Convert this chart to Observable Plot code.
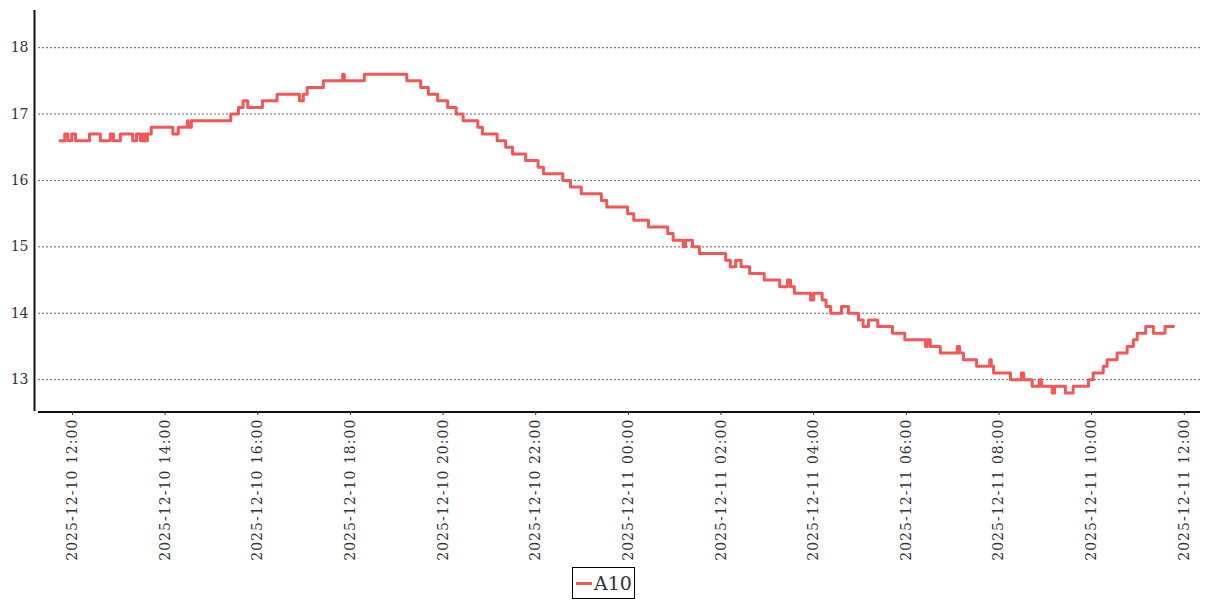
<!DOCTYPE html>
<html>
<head>
<meta charset="utf-8">
<script src="https://cdn.jsdelivr.net/npm/d3@7"></script>
<script src="https://cdn.jsdelivr.net/npm/@observablehq/plot@0.6"></script>
<style>
  html, body { margin: 0; padding: 0; background: #fff; }
  #chart svg { display: block; }
  #chart g[aria-label="x-axis tick label"] text { letter-spacing: 1.05px; }
  .legend { display: flex; justify-content: center; margin-top: 2px; }
  .legend .box { border: 1px solid #000; display: flex; align-items: center; padding: 0 2px 0 3px; height: 30px;
    font-family: "DejaVu Serif", serif; font-size: 19px; color: #333; }
  .legend .sw { width: 16px; height: 3px; background: #f25757; margin-right: 2px; }
</style>
</head>
<body>
<div id="chart"></div>
<div class="legend"><div class="box"><span class="sw"></span><span>A10</span></div></div>
<script>
const seriesName = "A10";
const times = [
  "2025-12-10 11:44","2025-12-10 11:50","2025-12-10 11:54","2025-12-10 11:59","2025-12-10 12:04",
  "2025-12-10 12:22","2025-12-10 12:36","2025-12-10 12:49","2025-12-10 12:53","2025-12-10 13:02",
  "2025-12-10 13:18","2025-12-10 13:23","2025-12-10 13:28","2025-12-10 13:31","2025-12-10 13:32",
  "2025-12-10 13:35","2025-12-10 13:36","2025-12-10 13:37","2025-12-10 13:42","2025-12-10 14:10",
  "2025-12-10 14:17","2025-12-10 14:29","2025-12-10 14:30","2025-12-10 14:34","2025-12-10 15:25",
  "2025-12-10 15:35","2025-12-10 15:41","2025-12-10 15:47","2025-12-10 16:06","2025-12-10 16:25",
  "2025-12-10 16:54","2025-12-10 16:59","2025-12-10 17:04","2025-12-10 17:25","2025-12-10 17:50",
  "2025-12-10 17:52","2025-12-10 18:18","2025-12-10 19:13","2025-12-10 19:31","2025-12-10 19:41",
  "2025-12-10 19:53","2025-12-10 20:06","2025-12-10 20:17","2025-12-10 20:26","2025-12-10 20:45",
  "2025-12-10 20:51","2025-12-10 21:10","2025-12-10 21:21","2025-12-10 21:30","2025-12-10 21:47",
  "2025-12-10 22:03","2025-12-10 22:10","2025-12-10 22:35","2025-12-10 22:45","2025-12-10 22:59",
  "2025-12-10 23:25","2025-12-10 23:32","2025-12-10 23:59","2025-12-11 00:07","2025-12-11 00:26",
  "2025-12-11 00:51","2025-12-11 00:58","2025-12-11 01:11","2025-12-11 01:14","2025-12-11 01:23",
  "2025-12-11 01:32","2025-12-11 02:06","2025-12-11 02:12","2025-12-11 02:19","2025-12-11 02:26",
  "2025-12-11 02:37","2025-12-11 02:56","2025-12-11 03:16","2025-12-11 03:26","2025-12-11 03:30",
  "2025-12-11 03:35","2025-12-11 03:56","2025-12-11 04:00","2025-12-11 04:11","2025-12-11 04:16",
  "2025-12-11 04:22","2025-12-11 04:36","2025-12-11 04:45","2025-12-11 04:58","2025-12-11 05:04",
  "2025-12-11 05:11","2025-12-11 05:23","2025-12-11 05:42","2025-12-11 05:58","2025-12-11 06:25",
  "2025-12-11 06:27","2025-12-11 06:31","2025-12-11 06:44","2025-12-11 07:06","2025-12-11 07:09",
  "2025-12-11 07:14","2025-12-11 07:31","2025-12-11 07:48","2025-12-11 07:50","2025-12-11 07:53",
  "2025-12-11 08:15","2025-12-11 08:29","2025-12-11 08:32","2025-12-11 08:43","2025-12-11 08:52",
  "2025-12-11 08:55","2025-12-11 09:09","2025-12-11 09:12","2025-12-11 09:26","2025-12-11 09:36",
  "2025-12-11 09:56","2025-12-11 10:02","2025-12-11 10:15","2025-12-11 10:20","2025-12-11 10:33",
  "2025-12-11 10:46","2025-12-11 10:54","2025-12-11 10:59","2025-12-11 11:10","2025-12-11 11:20",
  "2025-12-11 11:35","2025-12-11 11:46"
];
const temps = [
  16.6,16.7,16.6,16.7,16.6,
  16.7,16.6,16.7,16.6,16.7,
  16.6,16.7,16.6,16.7,16.6,
  16.7,16.6,16.7,16.8,16.7,
  16.8,16.9,16.8,16.9,17.0,
  17.1,17.2,17.1,17.2,17.3,
  17.2,17.3,17.4,17.5,17.6,
  17.5,17.6,17.5,17.4,17.3,
  17.2,17.1,17.0,16.9,16.8,
  16.7,16.6,16.5,16.4,16.3,
  16.2,16.1,16.0,15.9,15.8,
  15.7,15.6,15.5,15.4,15.3,
  15.2,15.1,15.0,15.1,15.0,
  14.9,14.8,14.7,14.8,14.7,
  14.6,14.5,14.4,14.5,14.4,
  14.3,14.2,14.3,14.2,14.1,
  14.0,14.1,14.0,13.9,13.8,
  13.9,13.8,13.7,13.6,13.5,
  13.6,13.5,13.4,13.5,13.4,
  13.3,13.2,13.3,13.2,13.1,
  13.0,13.1,13.0,12.9,13.0,
  12.9,12.8,12.9,12.8,12.9,
  13.0,13.1,13.2,13.3,13.4,
  13.5,13.6,13.7,13.8,13.7,
  13.8,13.8
];
const xTicks = [
  "2025-12-10 12:00","2025-12-10 14:00","2025-12-10 16:00","2025-12-10 18:00",
  "2025-12-10 20:00","2025-12-10 22:00","2025-12-11 00:00","2025-12-11 02:00",
  "2025-12-11 04:00","2025-12-11 06:00","2025-12-11 08:00","2025-12-11 10:00",
  "2025-12-11 12:00"
];
const yTicks = [13, 14, 15, 16, 17, 18];
const xDomain = ["2025-12-10 11:16", "2025-12-11 12:21"];
const yDomain = [12.52, 18.56];

const parse = d3.utcParse("%Y-%m-%d %H:%M");
const fmt = d3.utcFormat("%Y-%m-%d %H:%M");
const data = times.map((t, i) => ({date: parse(t), value: temps[i], series: seriesName}));
const lineColor = "#f25757";

const chart = Plot.plot({
  width: 1207,
  height: 565,
  marginLeft: 38,
  marginRight: 7,
  marginTop: 10,
  marginBottom: 154,
  style: {fontFamily: "'DejaVu Serif', serif", fontSize: "14px", color: "#333", background: "#fff"},
  x: {type: "utc", domain: xDomain.map(parse), label: null},
  y: {domain: yDomain, label: null},
  marks: [
    Plot.gridY(yTicks, {stroke: "#666", strokeOpacity: 1, strokeDasharray: "2,2", strokeWidth: 1}),
    Plot.ruleX([parse(xDomain[0])], {dx: -4, stroke: "#111", strokeWidth: 2}),
    Plot.ruleY([yDomain[0]], {dy: 0.5, stroke: "#111", strokeWidth: 2}),
    Plot.axisY(yTicks, {tickSize: 0, tickPadding: 6, dx: -4, fontSize: 14, fill: "#333", tickFormat: d => d, label: null}),
    Plot.axisX(xTicks.map(parse), {tickSize: 4, tickRotate: -90, tickPadding: 3, fontSize: 14, fill: "#333",
      stroke: "#333", tickFormat: fmt, label: null}),
    Plot.line(data, {x: "date", y: "value", curve: "step-after", stroke: lineColor, strokeWidth: 3})
  ]
});
document.getElementById("chart").appendChild(chart);
</script>
</body>
</html>
